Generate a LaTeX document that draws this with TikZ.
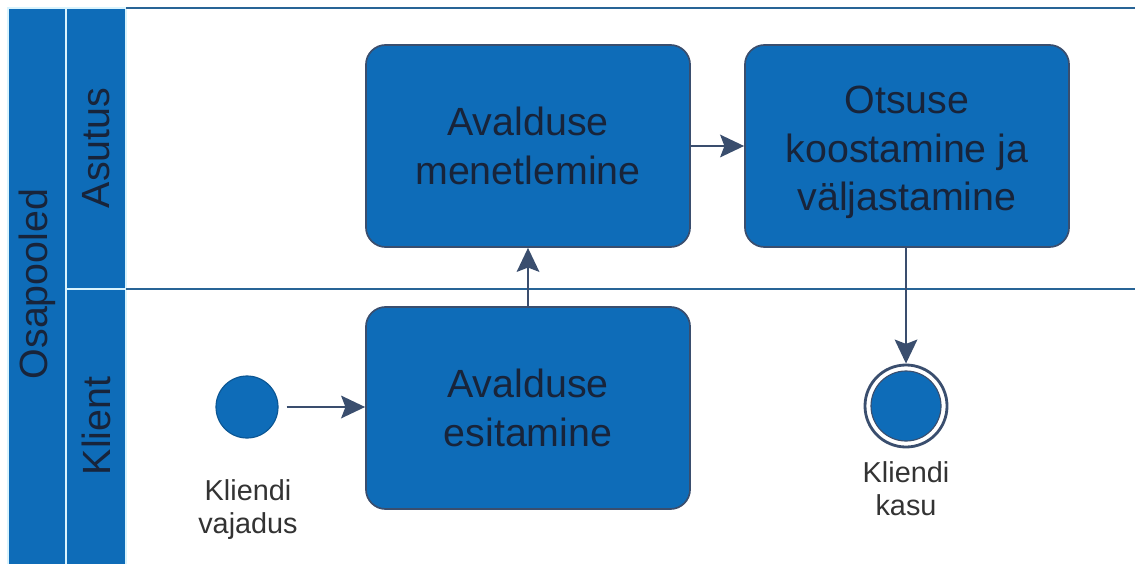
\documentclass[tikz,border=0pt]{standalone}
\usepackage{fontspec}
\setmainfont{Liberation Sans}
\usepackage{tikz}
\usetikzlibrary{arrows.meta}
\definecolor{bpmnblue}{RGB}{14,108,184}
\definecolor{bpmnline}{RGB}{58,78,110}
\definecolor{bpmntext}{RGB}{24,36,58}
\definecolor{poolline}{RGB}{40,100,150}
\tikzset{
  task/.style={draw=bpmnline, line width=1.2pt, fill=bpmnblue, rounded corners=14pt,
    minimum width=8.1cm, minimum height=5.05cm, align=center, text=bpmntext,
    font=\fontsize{28}{34.5}\selectfont},
  flow/.style={draw=bpmnline, line width=2pt, -{Stealth[length=17pt,width=16pt,inset=3pt]}},
  lanehead/.style={fill=bpmnblue, draw=cyan!15, line width=1pt},
  evtlabel/.style={align=center, text=black!80, font=\fontsize{20.5}{23.5}\selectfont}
}
\begin{document}
\begin{tikzpicture}[x=0.025cm, y=-0.025cm]
  \useasboundingbox (0,0) rectangle (1135,564);
  % pool and lane headers
  \draw[lanehead] (8,8) rectangle (66,570);
  \draw[lanehead] (66,8) rectangle (126,289);
  \draw[lanehead] (66,289) rectangle (126,570);
  \node[rotate=90, text=bpmntext, font=\fontsize{28}{34}\selectfont] (pool) at (37,284) {Osapooled};
  \node[rotate=90, text=bpmntext, font=\fontsize{28}{34}\selectfont] (asutus) at (96,148) {Asutus};
  \node[rotate=90, text=bpmntext, font=\fontsize{28}{34}\selectfont] (klient) at (96,426) {Klient};
  % lane borders
  \draw[poolline, line width=1.5pt] (126,8) -- (1135,8);
  \draw[poolline, line width=1.2pt] (126,289) -- (1135,289);
  % tasks
  \node[task] (menetlus) at (528,146) {Avalduse\\menetlemine};
  \node[task] (otsus) at (907,146) {\\[-0.2cm]Otsuse\\koostamine ja\\väljastamine};
  \node[task] (esitamine) at (528,408) {Avalduse\\esitamine};
  % events
  \node[circle, fill=bpmnblue, draw=bpmnblue!80!black, line width=0.8pt, minimum size=1.55cm, inner sep=0pt] (algus) at (247,407) {};
  \node[circle, draw=bpmnline, line width=2pt, minimum size=2.05cm, inner sep=0pt] (lopp) at (906,406) {};
  \node[circle, fill=bpmnblue, draw=bpmnline, line width=0.8pt, minimum size=1.75cm, inner sep=0pt] at (lopp) {};
  \node[evtlabel] (vajadus) at (248,510) {Kliendi\\vajadus};
  \node[evtlabel] (kasu) at (906,489) {Kliendi\\kasu};
  % sequence flows
  \draw[flow] (algus.east) ++(8,0) -- (esitamine.west |- algus);
  \draw[flow] (esitamine.north) -- (menetlus.south);
  \draw[flow] (menetlus.east) -- (otsus.west);
  \draw[flow] (otsus.south -| lopp) -- (lopp.north);
\end{tikzpicture}
\end{document}
